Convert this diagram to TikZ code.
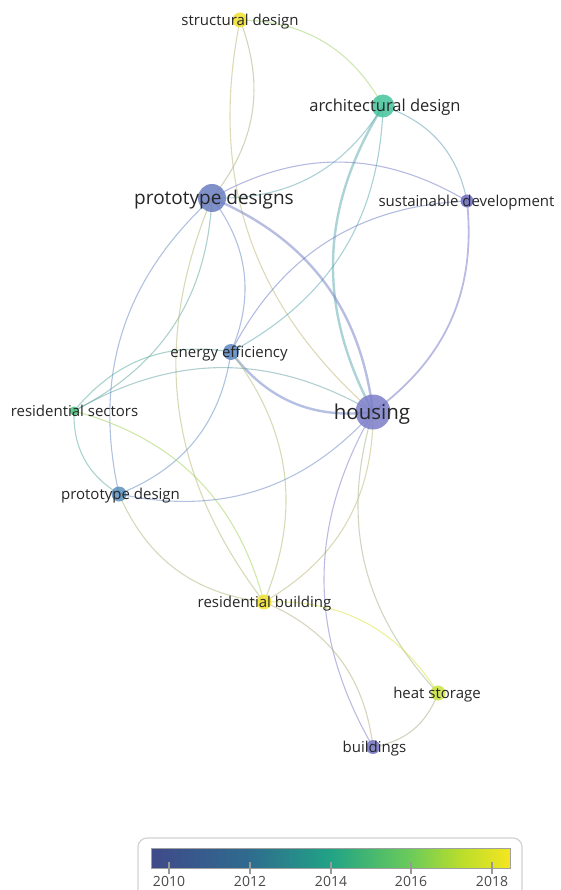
\documentclass[tikz,border=0pt]{standalone}
\usepackage{fontspec}
\setmainfont{Open Sans}
\usetikzlibrary{backgrounds}

% node colours (overlay scale, publication year)
\definecolor{cSD}{HTML}{F0E12C}
\definecolor{cAD}{HTML}{45C39B}
\definecolor{cPDs}{HTML}{6A7EC1}
\definecolor{cSU}{HTML}{6F6DC2}
\definecolor{cEE}{HTML}{5C86C1}
\definecolor{cRS}{HTML}{4CC27A}
\definecolor{cHO}{HTML}{7A7CC8}
\definecolor{cPD}{HTML}{5A8FBE}
\definecolor{cRB}{HTML}{EFE02E}
\definecolor{cHS}{HTML}{C9E23B}
\definecolor{cBU}{HTML}{7373C4}
\definecolor{txtcol}{HTML}{262626}
\definecolor{legtxt}{HTML}{4A4A4A}

% colour bar stops
\definecolor{v0}{HTML}{3F4A8A}
\definecolor{v1}{HTML}{2F6B8E}
\definecolor{v2}{HTML}{21A386}
\definecolor{v3}{HTML}{6ACB5A}
\definecolor{v4}{HTML}{B8DD2C}
\definecolor{v5}{HTML}{F5E61F}
\pgfdeclarehorizontalshading{viridisbar}{100bp}{color(0bp)=(v0); color(25bp)=(v0); color(38.5bp)=(v1); color(50bp)=(v2); color(61bp)=(v3); color(68bp)=(v4); color(75bp)=(v5); color(100bp)=(v5)}

\tikzset{
  dot/.style={circle, inner sep=0pt, draw=none, fill opacity=0.85},
  ed/.style={line width=1.1pt, draw opacity=0.5},
  edthick/.style={line width=2.4pt, draw opacity=0.5},
  lbl/.style={anchor=base, inner sep=0pt, text=txtcol},
  lblsm/.style={font=\fontsize{15}{18}\selectfont},
  ticklbl/.style={anchor=base, inner sep=0pt, text=legtxt, font=\fontsize{14}{17}\selectfont},
  yeartick/.style={draw=gray!80, line width=1.2pt},
}

\begin{document}
\begin{tikzpicture}[x=1pt,y=1pt]
\useasboundingbox (0,0) rectangle (560,-890);
\clip (0,0) rectangle (560,-890);

% keyword circles
\node[dot, minimum size=15pt, fill=cSD]  (SD)  at (240,-20)  {};
\node[dot, minimum size=23pt, fill=cAD]  (AD)  at (383,-106) {};
\node[dot, minimum size=28pt, fill=cPDs] (PDs) at (212,-198) {};
\node[dot, minimum size=13pt, fill=cSU]  (SU)  at (467,-201) {};
\node[dot, minimum size=16pt, fill=cEE]  (EE)  at (231,-352) {};
\node[dot, minimum size=9pt,  fill=cRS]  (RS)  at (74,-411)  {};
\node[dot, minimum size=35pt, fill=cHO]  (HO)  at (373,-412) {};
\node[dot, minimum size=15pt, fill=cPD]  (PD)  at (119,-494) {};
\node[dot, minimum size=15pt, fill=cRB]  (RB)  at (264,-602) {};
\node[dot, minimum size=15pt, fill=cHS]  (HS)  at (438,-693) {};
\node[dot, minimum size=14pt, fill=cBU]  (BU)  at (373,-747) {};

% co-occurrence links
\begin{scope}[on background layer]
\draw[ed, cSD!50!cAD]  (SD.center)  to[bend left] (AD.center);
\draw[ed, cSD!45!cPDs] (SD.center)  to[bend left] (PDs.center);
\draw[ed, cSD!55!cHO]  (SD.center)  to[bend right] (HO.center);
\draw[ed, cAD!50!cSU]  (AD.center)  to[bend left] (SU.center);
\draw[ed, cAD!55!cPDs] (AD.center)  to[bend left] (PDs.center);
\draw[edthick, cAD!60!cHO] (HO.center) to[bend left] (AD.center);
\draw[ed, cAD!50!cEE]  (AD.center)  to[bend left] (EE.center);
\draw[ed, cPDs!50!cSU] (PDs.center) to[bend left] (SU.center);
\draw[edthick, cPDs!50!cHO] (PDs.center) to[bend left] (HO.center);
\draw[ed, cPDs!50!cEE] (PDs.center) to[bend left] (EE.center);
\draw[ed, cPDs!45!cRS] (PDs.center) to[bend left] (RS.center);
\draw[ed, cPD!50!cPDs] (PD.center)  to[bend left] (PDs.center);
\draw[ed, cRB!55!cPDs] (RB.center)  to[bend left] (PDs.center);
\draw[line width=1.8pt, draw opacity=0.5, cSU!50!cHO] (SU.center) to[bend left] (HO.center);
\draw[ed, cEE!50!cSU]  (EE.center)  to[bend left] (SU.center);
\draw[edthick, cHO!50!cEE] (HO.center) to[bend left] (EE.center);
\draw[ed, cRS!55!cEE]  (RS.center)  to[bend left] (EE.center);
\draw[ed, cRS!50!cHO]  (RS.center)  to[bend left] (HO.center);
\draw[ed, cEE!50!cPD]  (EE.center)  to[bend left] (PD.center);
\draw[ed, cEE!45!cRB]  (EE.center)  to[bend left] (RB.center);
\draw[ed, cPD!50!cRS]  (PD.center)  to[bend left] (RS.center);
\draw[ed, cRS!50!cRB]  (RS.center)  to[bend left] (RB.center);
\draw[ed, cHO!50!cPD]  (HO.center)  to[bend left] (PD.center);
\draw[ed, cRB!50!cPD]  (RB.center)  to[bend left] (PD.center);
\draw[ed, cHO!45!cRB]  (HO.center)  to[bend left] (RB.center);
\draw[ed, cBU!50!cHO]  (BU.center)  to[bend left] (HO.center);
\draw[ed, cHS!50!cHO]  (HS.center)  to[bend left] (HO.center);
\draw[ed, cRB!50!cHS]  (RB.center)  to[bend left] (HS.center);
\draw[ed, cRB!50!cBU]  (RB.center)  to[bend left] (BU.center);
\draw[ed, cHS!50!cBU]  (HS.center)  to[bend left] (BU.center);
\end{scope}

% keyword labels
\node[lbl, lblsm] (SDt) at (240,-25.3) {structural design};
\node[lbl, font=\fontsize{16.5}{19}\selectfont] (ADt) at (385,-111.8) {architectural design};
\node[lbl, font=\fontsize{19}{22}\selectfont] (PDst) at (214,-204.6) {prototype designs};
\node[lbl, lblsm] (SUt) at (466.5,-206.3) {sustainable development};
\node[lbl, lblsm] (EEt) at (229,-357.3) {energy efficiency};
\node[lbl, lblsm] (RSt) at (74.5,-416.3) {residential sectors};
\node[lbl, font=\fontsize{20.5}{24}\selectfont] (HOt) at (372,-419.2) {housing};
\node[lbl, lblsm] (PDt) at (120.5,-499.3) {prototype design};
\node[lbl, lblsm] (RBt) at (264.5,-607.3) {residential building};
\node[lbl, lblsm] (HSt) at (437,-698.3) {heat storage};
\node[lbl, lblsm] (BUt) at (374.5,-752.3) {buildings};

% year legend
\draw[rounded corners=9pt, draw=gray!35, line width=1.2pt, fill=white] (138,-838) rectangle (522,-910);
\shade[shading=viridisbar] (151,-848) rectangle (510,-868);
\draw[gray!75, line width=1pt] (151,-848) rectangle (510,-868);
\foreach \x/\yr in {169/2010, 250/2012, 331/2014, 411/2016, 492/2018} {
  \draw[yeartick] (\x,-862) -- (\x,-874);
  \node[ticklbl] (y\yr) at (\x,-886.5) {\yr};
}
\end{tikzpicture}
\end{document}
